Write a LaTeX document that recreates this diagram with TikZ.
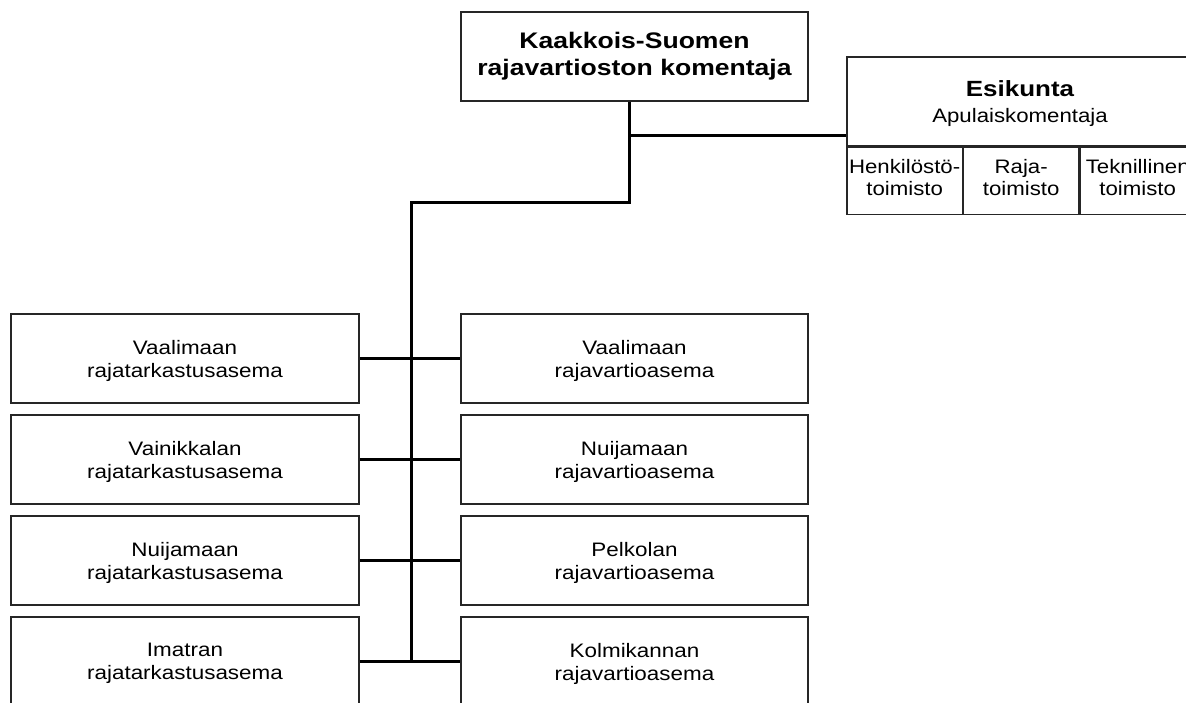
\documentclass[tikz,border=0pt]{standalone}
\usepackage{fontspec}
\setmainfont{Liberation Sans}
\newfontfamily\laatikko[FakeStretch=1.15]{Liberation Sans}
\newfontfamily\solu[FakeStretch=1.14]{Liberation Sans}
\newfontfamily\otsikko[FakeStretch=1.18]{Liberation Sans}
\usetikzlibrary{positioning}

\begin{document}
\begin{tikzpicture}[x=1pt,y=-1pt,
  perus/.style={draw=black!85, line width=1.2pt, fill=white, align=center, inner sep=0pt},
  johto/.style={perus, minimum width=347pt, minimum height=89pt,
    font=\otsikko\bfseries\fontsize{22.5}{27}\selectfont},
  asema/.style={perus, minimum width=347pt, minimum height=89pt, text depth=-2pt,
    font=\laatikko\fontsize{19.5}{23}\selectfont},
  esik/.style={perus, minimum width=346pt, minimum height=89pt, text depth=-6pt,
    font=\solu\fontsize{19.5}{26}\selectfont},
  toimisto/.style={perus, minimum width=115.33pt, minimum height=67pt, text depth=7pt,
    font=\solu\fontsize{19.5}{22}\selectfont},
  yhteys/.style={line width=3pt}]
  \useasboundingbox (0,0) rectangle (1186,702);
  \clip (0,0) rectangle (1186,702);

  % komentaja ja esikunta
  \node[johto] (kom) at (634.5,56.5) {Kaakkois-Suomen\\rajavartioston komentaja};
  \node[esik] (esi) at (1020,101.5)
    {{\otsikko\bfseries\fontsize{22}{24}\selectfont Esikunta}\\Apulaiskomentaja};
  \node[toimisto, anchor=north west] (hen) at (esi.south west) {Henkilöstö-\\toimisto};
  \node[toimisto, right=0pt of hen] (raja) {Raja-\\toimisto};
  \node[toimisto, right=0pt of raja] (tek) {Teknillinen\\toimisto};

  % asemat
  \foreach \vasen/\oikea [count=\i] in {Vaalimaan/Vaalimaan, Vainikkalan/Nuijamaan,
      Nuijamaan/Pelkolan, Imatran/Kolmikannan} {
    \node[asema, minimum width=348pt] (rt\i) at (185,257.5+101*\i) {\vasen\\rajatarkastusasema};
    \node[asema] (rv\i) at (634.5,257.5+101*\i) {\oikea\\rajavartioasema};
    \draw[yhteys] (rt\i.east) -- (rv\i.west);
  }

  % runko
  \coordinate (j1) at (629,135);
  \coordinate (j2) at (629,202);
  \coordinate (j3) at (411,202);
  \draw[yhteys] (j1) -- (j1 -| esi.west);
  \draw[yhteys] (kom.south -| j1) -- (j2) -- (j3) -- (j3 |- rt4.east);
\end{tikzpicture}
\end{document}
